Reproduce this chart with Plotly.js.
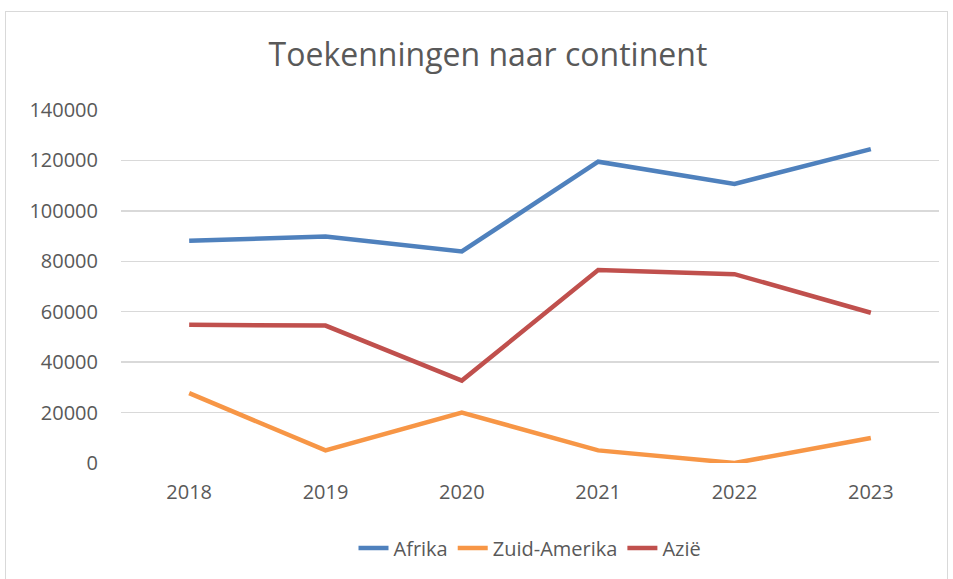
<!DOCTYPE html>
<html>
<head>
<meta charset="utf-8">
<script src="https://cdn.plot.ly/plotly-3.0.1.min.js"></script>
<style>
  html, body { margin: 0; padding: 0; background: #ffffff; }
  #wrap { position: relative; width: 953px; height: 579px; overflow: hidden; }
  #frame { position: absolute; left: 5px; top: 11px; width: 943px; height: 570px; border: 1px solid #d9d9d9; box-sizing: border-box; pointer-events: none; }
  #chart { position: absolute; left: 0; top: 0; width: 953px; height: 579px; }
</style>
</head>
<body>
<div id="wrap">
  <div id="chart"></div>
  <div id="frame"></div>
</div>
<script>
const years = ['2018', '2019', '2020', '2021', '2022', '2023'];
const afrika = [88100, 89800, 83900, 119500, 110700, 124500];
const zuidAmerika = [27700, 5000, 20000, 5000, 0, 9900];
const azie = [54800, 54500, 32700, 76500, 74900, 59600];
const seriesNames = ['Afrika', 'Zuid-Amerika', 'Azië'];
const yTicks = [0, 20000, 40000, 60000, 80000, 100000, 120000, 140000];

const colors = ['#4f81bd', '#f79646', '#c0504d'];
const allSeries = [afrika, zuidAmerika, azie];

const traces = allSeries.map((vals, i) => ({
  type: 'scatter',
  mode: 'lines',
  x: years,
  y: vals,
  name: seriesNames[i],
  line: { color: colors[i], width: 4.5 },
  hoverinfo: 'x+y+name'
}));

const layout = {
  width: 953,
  height: 579,
  margin: { l: 121, r: 14, t: 110, b: 116 },
  paper_bgcolor: 'rgba(0,0,0,0)',
  plot_bgcolor: '#ffffff',
  font: { family: 'Open Sans, sans-serif', color: '#595959', size: 20 },
  title: {
    text: 'Toekenningen naar continent',
    font: { family: 'Open Sans, sans-serif', size: 32, color: '#595959' },
    x: 0.512, xref: 'container', xanchor: 'center',
    y: 0.905, yref: 'container', yanchor: 'middle'
  },
  xaxis: {
    type: 'category',
    range: [-0.5, 5.5],
    showgrid: false,
    zeroline: false,
    showline: false,
    ticks: '',
    ticklabelstandoff: 15,
    tickfont: { size: 20, color: '#595959' }
  },
  yaxis: {
    range: [0, 140000],
    tickvals: yTicks,
    ticktext: yTicks.map(String),
    showgrid: true,
    gridcolor: '#d9d9d9',
    gridwidth: 1.3,
    zeroline: false,
    showline: false,
    ticks: '',
    ticklabelstandoff: 22,
    tickfont: { size: 20, color: '#595959' }
  },
  showlegend: true,
  legend: {
    orientation: 'h',
    x: 0.5, xanchor: 'center',
    y: -0.241, yanchor: 'middle',
    font: { size: 20, color: '#595959' },
    itemwidth: 30,
    bgcolor: 'rgba(0,0,0,0)'
  }
};

Plotly.newPlot('chart', traces, layout, { displayModeBar: false, staticPlot: true });
</script>
</body>
</html>
